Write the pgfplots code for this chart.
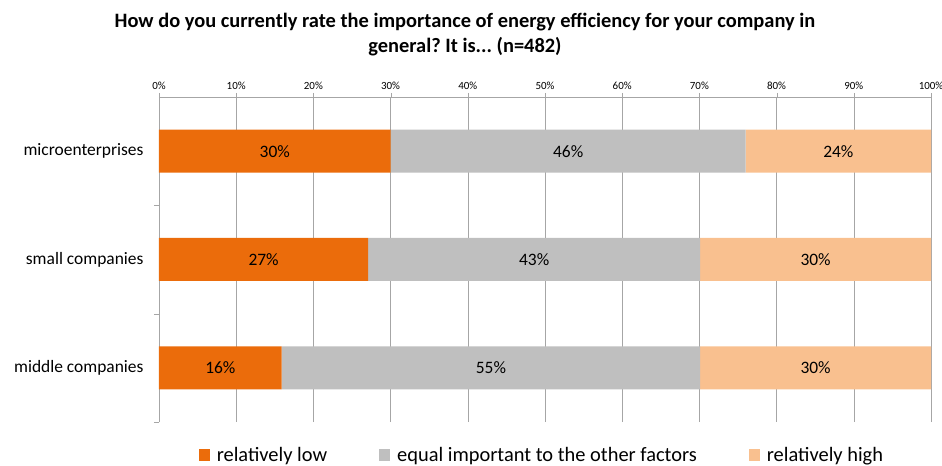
\documentclass[border=0pt]{standalone}
\usepackage{fontspec}
\setmainfont{Carlito}
\usepackage{pgfplots}
\usepackage{pgfplotstable}
\pgfplotsset{compat=1.18}
\frenchspacing

\definecolor{lowc}{RGB}{235,108,11}
\definecolor{midc}{RGB}{191,191,191}
\definecolor{highc}{RGB}{249,192,143}
\definecolor{gridc}{RGB}{166,166,166}

% y: 2 = microenterprises, 1 = small, 0 = middle
\pgfplotstableread{
y val lab
0 15.9 16\%
1 27.1 27\%
2 30.0 30\%
}\lowtab
\pgfplotstableread{
y val lab
0 54.2 55\%
1 43.0 43\%
2 46.0 46\%
}\midtab
\pgfplotstableread{
y val lab
0 29.9 30\%
1 29.9 30\%
2 24.0 24\%
}\hightab

\begin{document}
\begin{tikzpicture}
\useasboundingbox (-159bp,-44bp) rectangle (783bp,422bp);
\node[font=\fontsize{20.5}{25}\selectfont\bfseries, anchor=base] at (306bp,394bp)
  {How do you currently rate the importance of energy efficiency for your company in};
\node[font=\fontsize{20.5}{25}\selectfont\bfseries, anchor=base] at (306bp,369bp)
  {general? It is... (n=482)};
\begin{axis}[
  at={(0,0)}, anchor=south west,
  scale only axis,
  width=772bp, height=325bp,
  xbar stacked, bar width=43bp,
  xmin=0, xmax=100,
  ymin=-0.5, ymax=2.5,
  axis x line=top, axis y line=left,
  axis line style={draw=gridc,-},
  xtick={0,10,...,100},
  xticklabel={\pgfmathprintnumber{\tick}\%},
  xticklabel style={font=\fontsize{11}{13}\selectfont},
  /pgf/number format/assume math mode=true,
  xmajorgrids, grid style={draw=gridc},
  tick align=outside,
  xtick style={draw=gridc},
  major tick length=4bp,
  ytick={0,1,2},
  yticklabels={middle companies,small companies,microenterprises},
  yticklabel style={font=\fontsize{17.5}{20}\selectfont, xshift=-8bp},
  ytick style={draw=none},
  extra y ticks={-0.5,0.5,1.5},
  extra y tick labels={},
  extra y tick style={ytick style={draw=gridc}, major tick length=5bp, grid=none},
  point meta=explicit symbolic,
  nodes near coords,
  every node near coord/.append style={anchor=center, font=\fontsize{17.5}{20}\selectfont},
  legend columns=-1,
  legend style={draw=none, font=\fontsize{20.5}{24}\selectfont, at={(0.496,0)}, anchor=center, yshift=-33bp,
    /tikz/every even column/.append style={column sep=50bp},
    /tikz/every odd column/.append style={column sep=5bp}},
  legend image code/.code={\fill[#1] (0bp,-5.5bp) rectangle (11bp,5.5bp);},
]
\addplot[fill=lowc, draw=none] table[x=val, y=y, meta=lab] {\lowtab};
\addplot[fill=midc, draw=none] table[x=val, y=y, meta=lab] {\midtab};
\addplot[fill=highc, draw=none] table[x=val, y=y, meta=lab] {\hightab};
\legend{relatively low,equal important to the other factors,relatively high}
\end{axis}
\end{tikzpicture}
\end{document}
